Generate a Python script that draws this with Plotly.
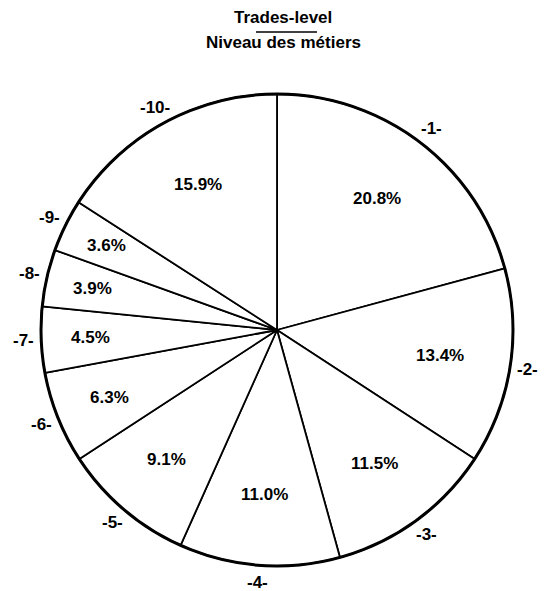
import math
import plotly.graph_objects as go

# Data
categories = ["-1-", "-2-", "-3-", "-4-", "-5-", "-6-", "-7-", "-8-", "-9-", "-10-"]
shares = [20.8, 13.4, 11.5, 11.0, 9.1, 6.3, 4.5, 3.9, 3.6, 15.9]
title_lines = ["Trades-level", "Niveau des métiers"]

W, H = 545, 591
CX, CY, R = 277, 330, 236  # pie centre / radius in pixels
FONT = "Liberation Sans, Arial, sans-serif"

def px(x):
    return x / W

def py(y):
    return 1 - y / H

fig = go.Figure()
fig.add_trace(go.Pie(
    labels=categories,
    values=shares,
    sort=False,
    direction="clockwise",
    rotation=0,
    textinfo="none",
    hoverinfo="label+percent",
    marker=dict(colors=["white"] * len(shares), line=dict(color="black", width=1.8)),
    domain=dict(x=[px(CX - R), px(CX + R)], y=[py(CY + R), py(CY - R)]),
    showlegend=False,
))

annotations = []
total = sum(shares)
cum = 0.0
for cat, v in zip(categories, shares):
    mid = (cum + v / 2) / total * 2 * math.pi
    cum += v
    sx, sy = math.sin(mid), -math.cos(mid)
    # outside category label
    lr = R * 1.075
    annotations.append(dict(
        x=px(CX + sx * lr), y=py(CY + sy * lr), xref="paper", yref="paper",
        text=f"<b>{cat}</b>", showarrow=False, xanchor="center", yanchor="middle",
        font=dict(family=FONT, size=17, color="black")))
    # percentage inside
    frac = max(0.70, 0.86 - 0.015 * v)
    ir = R * frac
    annotations.append(dict(
        x=px(CX + sx * ir), y=py(CY + sy * ir), xref="paper", yref="paper",
        text=f"<b>{v:.1f}%</b>", showarrow=False, xanchor="center", yanchor="middle",
        font=dict(family=FONT, size=17, color="black")))

for i, t in enumerate(title_lines):
    annotations.append(dict(
        x=px(283), y=py(17 + 26 * i), xref="paper", yref="paper",
        text=f"<b>{t}</b>", showarrow=False, xanchor="center", yanchor="middle",
        font=dict(family=FONT, size=17, color="black")))

shapes = [
    dict(type="circle", xref="paper", yref="paper",
         x0=px(CX - R), x1=px(CX + R), y0=py(CY + R), y1=py(CY - R),
         line=dict(color="black", width=3), fillcolor="rgba(0,0,0,0)"),
    dict(type="line", xref="paper", yref="paper",
         x0=px(256), x1=px(317), y0=py(32), y1=py(32),
         line=dict(color="black", width=1.5)),
]

fig.update_layout(
    width=W, height=H,
    margin=dict(l=0, r=0, t=0, b=0, pad=0),
    paper_bgcolor="white", plot_bgcolor="white",
    annotations=annotations, shapes=shapes,
)

fig.write_html("out.html",
               config={"displayModeBar": False},
               post_script="document.body.style.margin='0';document.body.style.overflow='hidden';")
